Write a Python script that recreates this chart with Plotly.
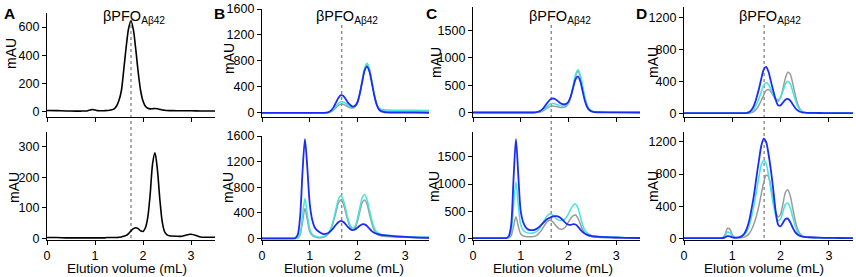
import plotly.graph_objects as go

W, H = 856, 277

# Elution volume sample grid (mL)
X = [0, 0.2, 0.4, 0.6, 0.65, 0.7, 0.75, 0.8, 0.85, 0.9,
     0.95, 1.0, 1.05, 1.1, 1.15, 1.2, 1.25, 1.3, 1.35, 1.4,
     1.45, 1.5, 1.55, 1.6, 1.65, 1.7, 1.75, 1.8, 1.85, 1.9,
     1.95, 2.0, 2.05, 2.1, 2.15, 2.2, 2.25, 2.3, 2.35, 2.4,
     2.45, 2.5, 2.55, 2.6, 2.8, 3.0, 3.2, 3.5]

# Panel A (black)
A_top = [8, 7, 5, 4, 4, 4, 5, 5, 7, 12,
         15, 11, 7, 6, 6, 7, 8, 10, 13, 20,
         40, 80, 150, 300, 460, 590, 645, 580, 440, 280,
         150, 75, 38, 24, 20, 21, 22, 20, 16, 12,
         10, 8, 7, 7, 6, 6, 5, 5]
A_bot = [3, 3, 2, 2, 2, 2, 2, 2, 2, 2,
         2, 2, 2, 2, 2, 2, 3, 3, 3, 3,
         3, 4, 5, 7, 10, 16, 25, 32, 35, 32,
         25, 23, 35, 70, 145, 245, 280, 225, 130, 55,
         22, 12, 9, 8, 7, 14, 5, 4]

# Panel B
B_top_gray = [3, 3, 3, 3, 3, 3, 3, 3, 3, 3,
              3, 3, 3, 3, 3, 3, 3, 3, 4, 8,
              20, 45, 80, 115, 135, 133, 118, 95, 80, 76,
              95, 155, 290, 485, 670, 740, 670, 485, 290, 140,
              65, 38, 30, 27, 25, 24, 23, 22]
B_top_cyan = [3, 3, 3, 3, 3, 3, 3, 3, 3, 3,
              3, 3, 3, 3, 3, 3, 3, 3, 5, 10,
              25, 55, 100, 145, 172, 170, 150, 120, 95, 88,
              105, 165, 300, 500, 690, 765, 690, 500, 300, 150,
              80, 55, 48, 45, 42, 40, 40, 38]
B_top_blue = [2, 2, 2, 2, 2, 2, 2, 2, 2, 2,
              2, 2, 2, 2, 2, 2, 2, 2, 5, 15,
              40, 90, 160, 230, 275, 265, 220, 160, 125, 97,
              110, 165, 300, 480, 650, 712, 640, 470, 280, 135,
              55, 25, 15, 10, 6, 5, 4, 3]
B_bot_gray = [2, 2, 2, 2, 2, 2, 8, 60, 260, 470,
              290, 110, 50, 25, 16, 13, 14, 22, 45, 85,
              155, 270, 410, 550, 600, 550, 420, 280, 175, 132,
              160, 270, 420, 560, 600, 540, 390, 240, 130, 75,
              50, 40, 35, 32, 24, 18, 14, 10]
B_bot_cyan = [2, 2, 2, 2, 2, 2, 10, 80, 350, 625,
              380, 150, 70, 40, 28, 24, 25, 35, 55, 90,
              170, 300, 460, 610, 668, 610, 470, 320, 205, 160,
              195, 310, 480, 640, 688, 610, 450, 290, 170, 105,
              78, 65, 58, 52, 40, 30, 22, 15]
B_bot_blue = [2, 2, 2, 2, 3, 10, 60, 350, 1050, 1550,
              1100, 550, 300, 180, 130, 100, 80, 70, 75, 90,
              125, 165, 215, 255, 275, 260, 225, 180, 145, 130,
              140, 170, 200, 222, 220, 195, 155, 115, 90, 75,
              65, 58, 52, 48, 35, 25, 18, 12]

# Panel C
C_top_gray = [2, 2, 2, 2, 2, 2, 2, 2, 2, 2,
              2, 2, 2, 2, 2, 2, 2, 3, 5, 12,
              26, 50, 80, 105, 118, 118, 110, 100, 95, 96,
              115, 170, 290, 480, 670, 750, 660, 450, 250, 115,
              50, 22, 12, 8, 5, 4, 4, 3]
C_top_cyan = [2, 2, 2, 2, 2, 2, 2, 2, 2, 2,
              2, 2, 2, 2, 2, 2, 2, 3, 8, 18,
              38, 70, 110, 148, 166, 165, 150, 133, 122, 120,
              135, 185, 300, 500, 700, 785, 690, 470, 260, 120,
              55, 25, 14, 10, 6, 5, 4, 4]
C_top_blue = [2, 2, 2, 2, 2, 2, 2, 2, 2, 2,
              2, 2, 2, 2, 2, 2, 2, 5, 12, 28,
              60, 110, 170, 225, 255, 255, 230, 195, 165, 152,
              160, 200, 300, 460, 610, 663, 570, 380, 200, 90,
              40, 18, 10, 7, 4, 3, 3, 2]
C_bot_gray = [2, 2, 2, 2, 2, 3, 8, 50, 220, 397,
              220, 80, 45, 32, 28, 27, 30, 40, 65, 110,
              170, 240, 300, 335, 320, 275, 220, 180, 168, 180,
              225, 300, 370, 420, 430, 370, 260, 160, 90, 55,
              38, 28, 22, 18, 12, 8, 6, 4]
C_bot_cyan = [2, 2, 2, 2, 2, 4, 20, 130, 600, 1040,
              600, 250, 150, 115, 100, 95, 98, 110, 140, 190,
              260, 340, 410, 450, 440, 400, 360, 335, 330, 340,
              380, 450, 540, 610, 630, 560, 400, 240, 140, 90,
              65, 50, 42, 38, 28, 18, 12, 8]
C_bot_blue = [2, 2, 2, 2, 2, 5, 40, 250, 1100, 1830,
              1150, 500, 300, 210, 165, 152, 150, 160, 185, 220,
              265, 310, 350, 375, 395, 408, 408, 395, 365, 320,
              275, 250, 248, 262, 255, 215, 160, 115, 85, 65,
              50, 40, 34, 30, 22, 15, 10, 6]

# Panel D
D_top_gray = [2, 2, 2, 2, 2, 2, 2, 2, 2, 2,
              2, 2, 2, 2, 2, 2, 2, 2, 4, 10,
              25, 55, 100, 160, 225, 285, 298, 270, 220, 170,
              155, 200, 310, 440, 515, 490, 380, 240, 125, 55,
              25, 12, 7, 5, 4, 3, 3, 2]
D_top_cyan = [2, 2, 2, 2, 2, 2, 2, 2, 2, 2,
              2, 2, 2, 2, 2, 2, 2, 3, 8, 25,
              55, 110, 180, 270, 350, 385, 360, 300, 235, 185,
              170, 200, 280, 365, 402, 370, 280, 175, 95, 45,
              22, 12, 8, 6, 4, 3, 3, 2]
D_top_blue = [2, 2, 2, 2, 2, 2, 2, 2, 2, 2,
              2, 2, 2, 2, 2, 2, 2, 5, 15, 45,
              100, 190, 300, 430, 545, 580, 520, 400, 280, 170,
              100, 100, 135, 170, 180, 160, 115, 70, 38, 20,
              12, 8, 6, 5, 4, 3, 3, 2]
D_bot_gray = [2, 2, 2, 2, 2, 2, 2, 6, 45, 125,
              115, 45, 12, 6, 6, 8, 15, 30, 60, 110,
              180, 280, 400, 550, 690, 785, 770, 640, 470, 330,
              265, 300, 430, 570, 605, 530, 380, 230, 120, 60,
              30, 18, 12, 10, 6, 4, 3, 2]
D_bot_cyan = [2, 2, 2, 2, 2, 2, 2, 5, 30, 78,
              70, 30, 12, 10, 14, 25, 45, 85, 160, 270,
              410, 580, 760, 910, 970, 930, 790, 600, 420, 280,
              220, 240, 330, 425, 440, 380, 270, 160, 85, 45,
              28, 20, 16, 13, 8, 5, 4, 3]
D_bot_blue = [2, 2, 2, 2, 2, 2, 2, 4, 12, 28,
              25, 12, 7, 8, 15, 30, 60, 120, 220, 370,
              540, 760, 960, 1150, 1242, 1200, 1050, 850, 600, 330,
              170, 150, 195, 240, 245, 200, 135, 80, 48, 30,
              22, 18, 15, 13, 8, 5, 4, 3]

# Reference elution volume of βPFO(Aβ42) per column (dashed line)
REF_VOL = [1.75, 1.67, 1.64, 1.66]
PANEL_LETTERS = ["A", "B", "C", "D"]
X_TICKS = [0, 1, 2, 3]
Y_TICKS_TOP = [[0, 200, 400, 600], [0, 400, 800, 1200, 1600],
               [0, 500, 1000, 1500], [0, 400, 800, 1200]]
Y_TICKS_BOT = [[0, 100, 200, 300], [0, 400, 800, 1200, 1600],
               [0, 500, 1000, 1500], [0, 400, 800, 1200]]

GRAY, CYAN, BLUE, BLACK = "#9a9a9a", "#44e4e0", "#1a2cf5", "#000000"
FONT = "Liberation Sans, Arial, sans-serif"

series = [
    [[(A_top, BLACK, 1.6)],
     [(B_top_gray, GRAY, 1.5), (B_top_cyan, CYAN, 1.5), (B_top_blue, BLUE, 1.8)],
     [(C_top_gray, GRAY, 1.5), (C_top_cyan, CYAN, 1.5), (C_top_blue, BLUE, 1.8)],
     [(D_top_gray, GRAY, 1.5), (D_top_cyan, CYAN, 1.5), (D_top_blue, BLUE, 1.8)]],
    [[(A_bot, BLACK, 1.6)],
     [(B_bot_gray, GRAY, 1.5), (B_bot_cyan, CYAN, 1.5), (B_bot_blue, BLUE, 1.8)],
     [(C_bot_gray, GRAY, 1.5), (C_bot_cyan, CYAN, 1.5), (C_bot_blue, BLUE, 1.8)],
     [(D_bot_gray, GRAY, 1.5), (D_bot_cyan, CYAN, 1.5), (D_bot_blue, BLUE, 1.8)]],
]

# layout geometry (pixels)
x_dom_px = [(47, 215), (262, 429), (473, 640), (684, 853)]
y_dom_px = [[(13, 117), (9, 117), (7, 117), (7, 117)],
            [(132, 240), (136, 240), (132, 240), (132, 240)]]
y_ranges = [[(-38, 700), (-62, 1600), (-80, 1930), (-46, 1330)],
            [(-5, 348), (-23, 1600), (-31, 1960), (-21, 1324)]]

fig = go.Figure()
layout = dict(width=W, height=H, margin=dict(l=0, r=0, t=0, b=0),
              paper_bgcolor="white", plot_bgcolor="white", showlegend=False,
              font=dict(family=FONT, color="black"))

axis_common = dict(showgrid=False, zeroline=False, showline=True, linecolor="black",
                   linewidth=1.2, ticks="outside", ticklen=4, tickwidth=1.2,
                   tickcolor="black", tickfont=dict(size=12.5, family=FONT, color="black"),
                   automargin=False)

annotations = []
shapes = []
for r in range(2):
    for c in range(4):
        k = r * 4 + c + 1
        xs = "" if k == 1 else str(k)
        for ys, col, lw in series[r][c]:
            fig.add_trace(go.Scatter(x=X, y=ys, mode="lines",
                                     line=dict(color=col, width=lw, shape="spline", smoothing=0.8),
                                     xaxis="x" + xs, yaxis="y" + xs, hoverinfo="skip"))
        xl, xr = x_dom_px[c]
        yt, yb = y_dom_px[r][c]
        layout["xaxis" + xs] = dict(axis_common, domain=[xl / W, xr / W], range=[0, 3.5],
                                    tickvals=X_TICKS, showticklabels=(r == 1),
                                    anchor="y" + xs)
        layout["yaxis" + xs] = dict(axis_common, domain=[1 - yb / H, 1 - yt / H],
                                    range=list(y_ranges[r][c]),
                                    tickvals=(Y_TICKS_TOP if r == 0 else Y_TICKS_BOT)[c],
                                    anchor="x" + xs)

# dashed reference lines spanning both rows
for c in range(4):
    xs = "" if c == 0 else str(c + 1)
    shapes.append(dict(type="line", xref="x" + xs, yref="paper",
                       x0=REF_VOL[c], x1=REF_VOL[c], y0=1 - 238 / H, y1=1 - 23 / H,
                       line=dict(color="#8a8a8a", width=1.4, dash="3px,3px"), layer="below"))

def ann(text, x, y, size, **kw):
    d = dict(text=text, x=x / W, y=1 - y / H, xref="paper", yref="paper",
             showarrow=False, font=dict(size=size, family=FONT, color="black"),
             xanchor="center", yanchor="middle")
    d.update(kw)
    annotations.append(d)

letter_x = [9, 220, 432, 641]
title_x = [134, 347, 560, 770]
mau_x_top = [11, 229, 436, 653]
mau_y_top = [54, 59, 63, 63]
mau_x_bot = [14, 228, 434, 653]
elution_x = [127, 344, 553, 764]
for c in range(4):
    ann("<b>%s</b>" % PANEL_LETTERS[c], letter_x[c], 13, 15.5)
    ann("βPFO<sub>Aβ42</sub>", title_x[c], 17, 14.5)
    ann("mAU", mau_x_top[c], mau_y_top[c], 14, textangle=-90)
    ann("mAU", mau_x_bot[c], 187, 14, textangle=-90)
    ann("Elution volume (mL)", elution_x[c], 268.5, 13.5)

layout["annotations"] = annotations
layout["shapes"] = shapes
fig.update_layout(**layout)
fig.write_html("out.html", config={"displayModeBar": False},
               post_script="document.body.style.margin='0';document.body.style.padding='0';")
